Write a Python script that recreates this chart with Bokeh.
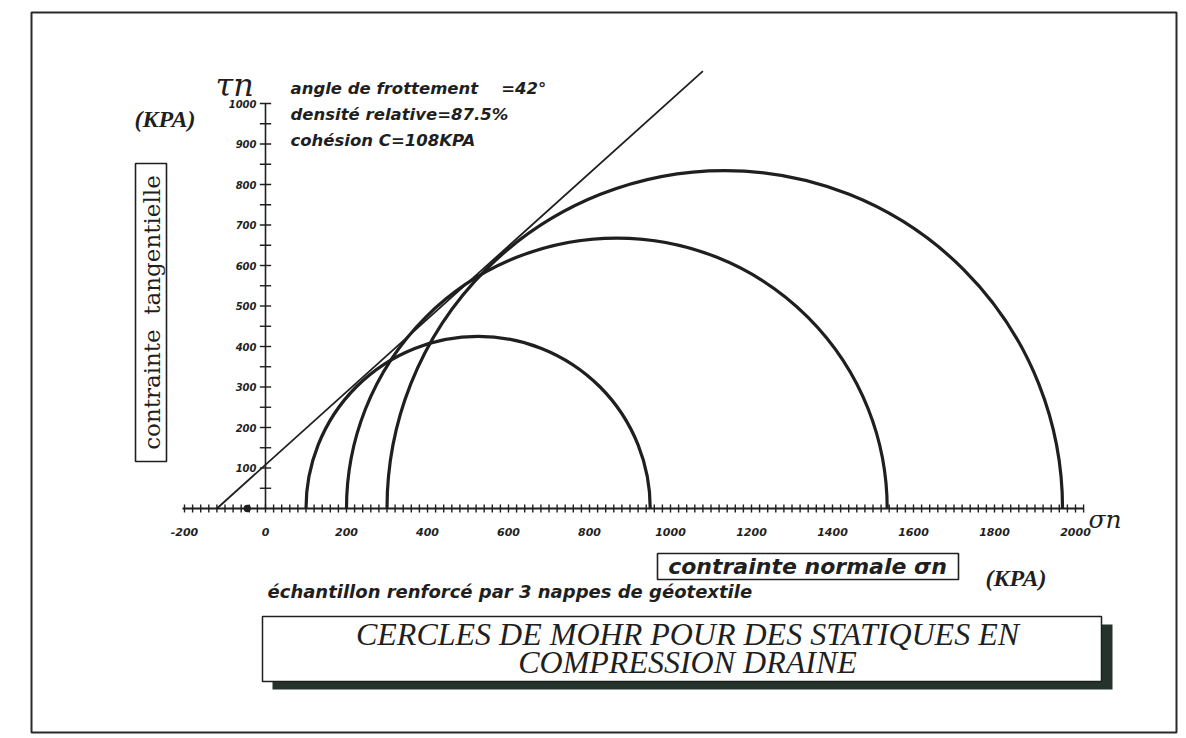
import numpy as np
from bokeh.plotting import figure
from bokeh.models import Range1d
from bokeh.core.properties import value
from bokeh.embed import file_html
from bokeh.resources import INLINE

# ---------------- data ----------------
sigma3 = [100, 200, 300]            # minor principal stress (kPa)
sigma1 = [950, 1535, 1968]          # major principal stress (kPa)
env_sigma = [-120, 1080]            # Coulomb envelope end points
env_tau = [0, 1080]
x_tick_values = list(range(-200, 2001, 200))
x_tick_labels = [str(v) for v in x_tick_values]
y_tick_values = list(range(100, 1001, 100))
y_tick_labels = [str(v) for v in y_tick_values]
params = ["angle de frottement\u00a0\u00a0\u00a0\u00a0=42°", "densité relative=87.5%",
          "cohésion C=108KPA"]
title_lines = ["CERCLES DE MOHR POUR DES STATIQUES EN", "COMPRESSION DRAINE"]

# ---------------- layout helpers (pixel -> data) ----------------
W, H = 1184, 736
S = 0.405          # pixels per kPa (both axes)
X0, Y0 = 265, 508  # pixel position of the origin


def dx(px):
    return (px - X0) / S


def dy(py):
    return (Y0 - py) / S


INK = "#1f1f1f"
p = figure(width=W, height=H, output_backend="svg", toolbar_location=None,
           x_range=Range1d(dx(0), dx(W)), y_range=Range1d(dy(H), dy(0)),
           x_axis_location=None, y_axis_location=None, min_border=0,
           background_fill_color="white", border_fill_color="white",
           outline_line_color=None)
p.grid.visible = False

# page frame
p.quad(left=[dx(31)], right=[dx(1176)], top=[dy(12)], bottom=[dy(732)],
       fill_color=None, line_color="#2a2a2a", line_width=2)

# ---------------- axes ----------------
xt = np.arange(-200, 2021, 20)
p.segment(x0=[-205], y0=[0], x1=[2020], y1=[0], line_color=INK, line_width=2.2)
p.segment(x0=xt, y0=-10, x1=xt, y1=10, line_color=INK, line_width=1.4)
p.segment(x0=[0], y0=[0], x1=[0], y1=[1000], line_color=INK, line_width=1.6)
yt = np.arange(50, 1001, 50)
p.segment(x0=-14, y0=yt, x1=14, y1=yt, line_color=INK, line_width=1.4)
p.circle(x=[-45], y=[0], radius=9, fill_color=INK, line_color=None)

p.text(x=x_tick_values, y=dy(531), text=x_tick_labels, text_align="center",
       text_baseline="middle", text_font=value("DejaVu Sans"),
       text_font_style="bold italic", text_font_size="11px", text_color=INK)
p.text(x=dx(256), y=y_tick_values, text=y_tick_labels, text_align="right",
       text_baseline="middle", text_font=value("DejaVu Sans"),
       text_font_style="bold italic", text_font_size="10px", text_color=INK)

# ---------------- Mohr circles and envelope ----------------
centers = [(a + b) / 2 for a, b in zip(sigma3, sigma1)]
radii = [(b - a) / 2 for a, b in zip(sigma3, sigma1)]
p.arc(x=centers, y=0, radius=radii, start_angle=0, end_angle=np.pi,
      line_color=INK, line_width=3.2)
p.line(x=env_sigma, y=env_tau, line_color=INK, line_width=1.8)

# ---------------- axis symbols & units ----------------
p.text(x=[dx(215)], y=[dy(84)], text=["τn"], text_font=value("DejaVu Serif"),
       text_font_style="italic", text_font_size="32px", text_color=INK,
       text_baseline="alphabetic")
p.text(x=[dx(1088)], y=[dy(519)], text=["σn"], text_font=value("DejaVu Serif"),
       text_font_style="italic", text_font_size="25px", text_color=INK,
       text_baseline="alphabetic")
p.text(x=[dx(134), dx(985)], y=[dy(118), dy(577)], text=["(KPA)", "(KPA)"],
       text_font=value("Liberation Serif"), text_font_style="bold italic",
       text_font_size="24px", text_color=INK, text_baseline="middle")

# parameters
p.text(x=dx(290), y=[dy(88), dy(114), dy(140)], text=params,
       text_font=value("DejaVu Sans"), text_font_style="bold italic",
       text_font_size="16.5px", text_color=INK, text_baseline="middle")

# vertical axis title in a box
p.quad(left=[dx(135)], right=[dx(166)], top=[dy(163)], bottom=[dy(461)],
       fill_color=None, line_color=INK, line_width=1.6)
p.text(x=[dx(151)], y=[dy(312)], text=["contrainte\u00a0\u00a0tangentielle"],
       angle=np.pi / 2, text_align="center", text_baseline="middle",
       text_font=value("DejaVu Serif"), text_font_size="23px", text_color=INK)

# horizontal axis title in a box
p.quad(left=[dx(657)], right=[dx(958)], top=[dy(553)], bottom=[dy(579)],
       fill_color=None, line_color=INK, line_width=1.6)
p.text(x=[dx(807)], y=[dy(566)], text=["contrainte normale σn"], text_align="center",
       text_baseline="middle", text_font=value("DejaVu Sans"),
       text_font_style="bold italic", text_font_size="22px", text_color=INK)

p.text(x=[dx(267)], y=[dy(591)], text=["échantillon renforcé par 3 nappes de géotextile"],
       text_baseline="middle", text_font=value("DejaVu Sans"),
       text_font_style="bold italic", text_font_size="18px", text_color=INK)

# title box with shadow
p.quad(left=[dx(272)], right=[dx(1112)], top=[dy(624)], bottom=[dy(689)],
       fill_color="#24332c", line_color=None)
p.quad(left=[dx(262)], right=[dx(1101)], top=[dy(616)], bottom=[dy(681)],
       fill_color="white", line_color=INK, line_width=1.5)
p.text(x=dx(687), y=[dy(633), dy(661)], text=title_lines, text_align="center",
       text_baseline="middle", text_font=value("Liberation Serif"),
       text_font_style="italic", text_font_size="32px", text_color=INK)

open("out.html", "w").write(file_html(p, INLINE))
